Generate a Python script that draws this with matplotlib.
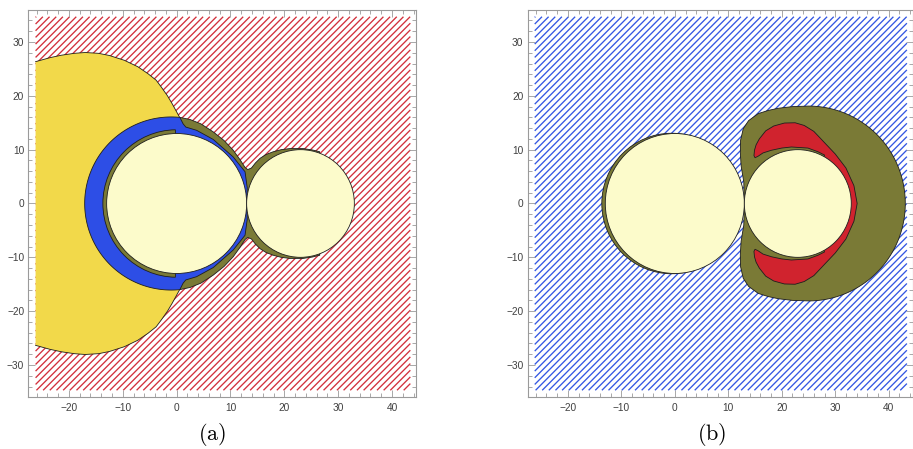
import numpy as np
import matplotlib
matplotlib.use("Agg")
import matplotlib.pyplot as plt
from matplotlib.patches import Polygon, Circle, Wedge
from matplotlib.collections import LineCollection

plt.rcParams["mathtext.fontset"] = "cm"
plt.rcParams["font.family"] = ["Liberation Sans", "DejaVu Sans"]

# ---- the two bodies (shared by both panels) ----
body_x = [0.0, 23.0]
body_r = [13.0, 10.0]

# plotted domain and frame limits
dom_x = [-26.2, 43.4]
dom_y = [-34.7, 34.7]
lim_x = [-27.55, 44.45]
lim_y = [-35.95, 35.95]

# ---- panel (a) region boundaries (upper halves, mirrored about y = 0) ----
yellow_x = [-26.2, -23.5, -21.4, -19.0, -17.0, -14.5, -12.5, -9.7, -7.2, -5.3, -3.8, -2.9, -1.7, -0.87, 0.56]
yellow_y = [26.35, 27.1, 27.55, 27.9, 28.05, 27.9, 27.5, 26.6, 25.4, 24.1, 22.9, 21.7, 20.0, 18.6, 16.0]

olive_a_x = [0.6, 2.5, 4.5, 6.8, 8.8, 10.5, 11.8, 12.7, 13.2, 13.9, 14.6, 15.5, 16.6, 17.9, 19.4, 21.0, 23.5, 25.2, 26.6]
olive_a_y = [16.0, 15.6, 14.8, 13.3, 11.7, 9.9, 8.1, 6.7, 6.3, 6.6, 7.5, 8.4, 9.1, 9.6, 10.0, 10.2, 10.2, 9.95, 9.6]

ring_center = (-1.0, 0.0)
ring_r = 16.08
ring_in_x = [0.8, 1.2, 1.7, 3.7, 6.8, 10.5, 12.7, 13.1, 13.05]
ring_in_y = [15.6, 14.8, 14.2, 13.6, 11.9, 8.65, 5.9, 3.0, 0.0]

band_r = 13.7
band_theta = [91.0, 269.0]

# ---- panel (b) region boundaries ----
crescent_center = (-0.6, 0.0)
crescent_r = 13.05

# left, flattened side of the large region, then a round right side
olive_b_x = [13.0, 12.9, 12.4, 12.25, 12.3, 12.8, 13.8, 15.6, 17.5, 19.4, 22.0, 25.0]
olive_b_y = [0.0, 4.0, 7.0, 9.5, 11.75, 13.9, 15.4, 16.7, 17.3, 17.7, 18.0, 18.1]
olive_b_arc = (25.0, 18.1)   # centre x, radius of the right-hand arc

red_out_x = [14.8, 14.9, 15.2, 15.8, 17.0, 18.5, 20.5, 22.5, 24.2, 26.0, 28.0, 30.0, 32.0, 33.5, 34.1]
red_out_y = [8.9, 9.9, 10.9, 12.0, 13.5, 14.4, 14.95, 15.0, 14.5, 13.4, 11.3, 9.2, 6.6, 3.3, 0.0]
red_in_x = [15.0, 15.6, 16.5, 18.1, 20.0, 21.8, 24.9, 26.8, 28.0]
red_in_y = [8.5, 8.8, 9.4, 9.9, 10.3, 10.5, 10.3, 9.6, 9.0]

# ---- colours ----
C_CREAM = "#fcfbcb"
C_YELLOW = "#f2d94a"
C_BLUE = "#2d4ee6"
C_OLIVE = "#7a7a36"
C_RED = "#d0232e"
C_EDGE = "#1e1e1e"
C_FRAME = "#9a9a9a"
C_TICKLBL = "#404040"
EDGE_LW = 0.6


def sym(xs, ys):
    """Upper path plus its mirror image (returned bottom part runs right-to-left)."""
    top = list(zip(xs, ys))
    bot = [(x, -y) for x, y in reversed(top)]
    return top, bot


def hatch(ax, color):
    x0, x1 = dom_x
    y0, y1 = dom_y
    segs = []
    for c in np.arange(y0 - x1, y1 - x0, 1.24):
        xa = max(x0, y0 - c)
        xb = min(x1, y1 - c)
        if xb > xa:
            segs.append([(xa, xa + c), (xb, xb + c)])
    ax.add_collection(LineCollection(segs, colors=color, linewidths=0.95, zorder=1))


def frame(ax):
    ax.set_xlim(*lim_x)
    ax.set_ylim(*lim_y)
    ax.set_xticks(np.arange(-20, 41, 10))
    ax.set_yticks(np.arange(-30, 31, 10))
    ax.set_xticks(np.arange(-26, 45, 2), minor=True)
    ax.set_yticks(np.arange(-34, 35, 2), minor=True)
    ax.tick_params(which="both", direction="in", top=True, right=True,
                   color=C_FRAME, width=0.6, labelsize=7.3, labelcolor=C_TICKLBL)
    ax.tick_params(which="major", length=5)
    ax.tick_params(which="minor", length=2.8)
    ax.tick_params(axis="x", pad=4)
    ax.tick_params(axis="y", pad=3)
    for s in ax.spines.values():
        s.set_color(C_FRAME)
        s.set_linewidth(0.8)


def bodies(ax, z=8):
    for cx, r in zip(body_x, body_r):
        ax.add_patch(Circle((cx, 0), r, fc=C_CREAM, ec=C_EDGE, lw=EDGE_LW, zorder=z))


fig = plt.figure(figsize=(9.13, 4.49), dpi=100)
W, H = 913.0, 449.0
ax_a = fig.add_axes([28.3 / W, 1 - 397 / H, 387.7 / W, 387 / H])
ax_b = fig.add_axes([527.5 / W, 1 - 397 / H, 385.0 / W, 387 / H])

# ================= panel (a) =================
ax = ax_a
hatch(ax, "#d2303c")

ytop, ybot = sym(yellow_x, yellow_y)
ax.add_patch(Polygon(ytop + [(3, 10), (3, -10)] + ybot, closed=True,
                     fc=C_YELLOW, ec="none", zorder=2))
for path in (ytop, ybot):
    px, py = zip(*path)
    ax.plot(px, py, color=C_EDGE, lw=EDGE_LW, zorder=2.5)

otop, obot = sym(olive_a_x, olive_a_y)
ax.add_patch(Polygon(otop + [(24, 4), (24, -4)] + obot + [(0, -10), (0, 10)], closed=True,
                     fc=C_OLIVE, ec=C_EDGE, lw=EDGE_LW, zorder=3))

# blue ring: outer arc on the left, inner edge hugging the left body on the right
x_end, y_end = olive_a_x[0], olive_a_y[0]
a0 = np.degrees(np.arctan2(y_end - ring_center[1], x_end - ring_center[0]))
th = np.radians(np.linspace(a0, 360 - a0, 200))
arc = list(zip(ring_center[0] + ring_r * np.cos(th), ring_center[1] + ring_r * np.sin(th)))
itop = list(zip(ring_in_x, ring_in_y))
inner = [(x, -y) for x, y in itop] + list(reversed(itop))[1:]
ax.add_patch(Polygon(arc + inner, closed=True, fc=C_BLUE, ec=C_EDGE, lw=EDGE_LW, zorder=4))

ax.add_patch(Wedge((0, 0), band_r, band_theta[0], band_theta[1],
                   fc=C_OLIVE, ec=C_EDGE, lw=EDGE_LW, zorder=5))
bodies(ax)
frame(ax)

# ================= panel (b) =================
ax = ax_b
hatch(ax, "#3457e2")

ax.add_patch(Circle(crescent_center, crescent_r, fc=C_OLIVE, ec=C_EDGE, lw=EDGE_LW, zorder=3))

cx_arc, r_arc = olive_b_arc
left_top = list(zip(olive_b_x, olive_b_y))
phi = np.radians(np.linspace(90, -90, 181))
right_arc = list(zip(cx_arc + r_arc * np.cos(phi), r_arc * np.sin(phi)))
left_bot = [(x, -y) for x, y in reversed(left_top)]
ax.add_patch(Polygon(left_top + right_arc[1:] + left_bot[1:], closed=True,
                     fc=C_OLIVE, ec=C_EDGE, lw=EDGE_LW, zorder=3))

rtop = list(zip(red_out_x, red_out_y))
rbot = [(x, -y) for x, y in reversed(rtop)][1:]
rin_bot = [(x, -y) for x, y in zip(red_in_x, red_in_y)]
rin_top = list(reversed(list(zip(red_in_x, red_in_y))))
ax.add_patch(Polygon(rtop + rbot + rin_bot + [(27, -5), (29, 0), (27, 5)] + rin_top, closed=True,
                     fc=C_RED, ec=C_EDGE, lw=EDGE_LW, zorder=4))
bodies(ax)
frame(ax)

fig.text(211.7 / W, 1 - 435 / H, r"$\mathrm{(a)}$", ha="center", va="center", fontsize=16)
fig.text(711.7 / W, 1 - 435 / H, r"$\mathrm{(b)}$", ha="center", va="center", fontsize=16)

fig.savefig("out.png", dpi=100)
